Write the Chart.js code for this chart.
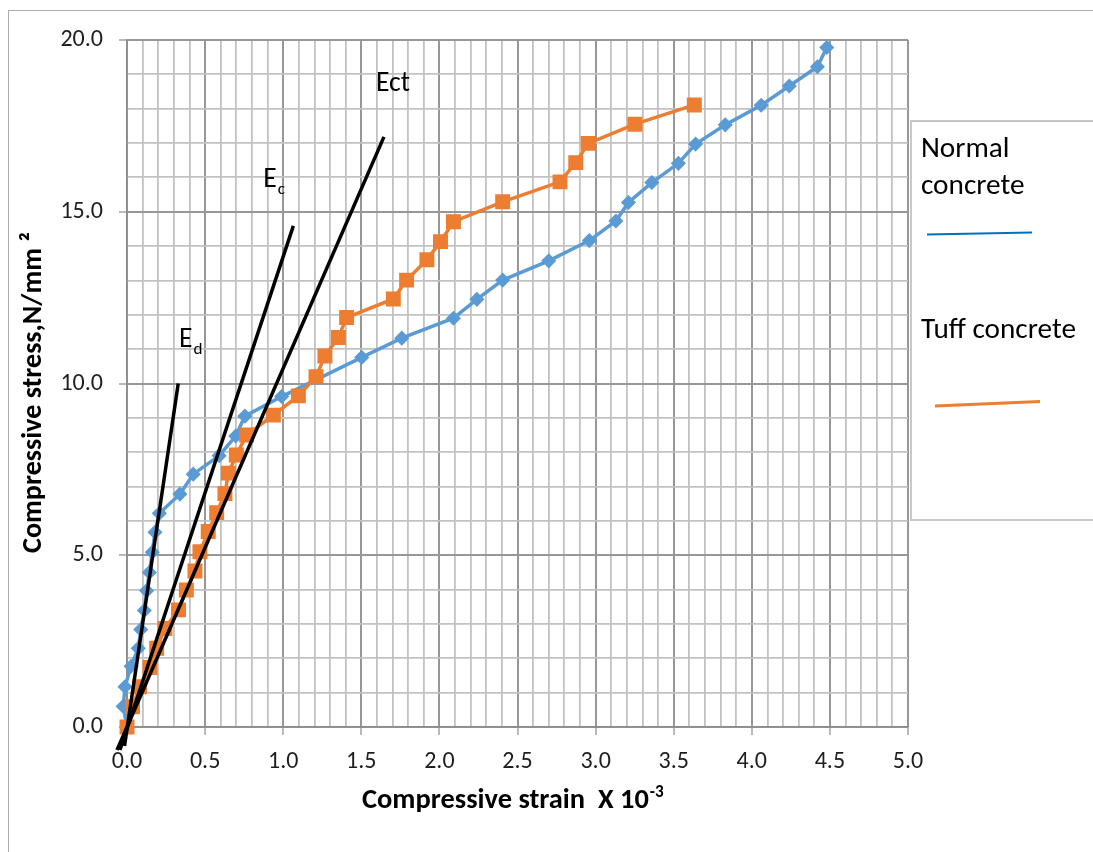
<!DOCTYPE html>
<html><head><meta charset="utf-8">
<script src="https://cdn.jsdelivr.net/npm/chart.js@4.4.1/dist/chart.umd.min.js"></script>
<style>html,body{margin:0;padding:0;background:#fff}canvas{display:block}</style>
</head><body>
<canvas id="c" width="1093" height="852"></canvas>
<script>
// ---- data ----
const normalStrain = [0, -0.024, -0.013, 0.026, 0.072, 0.088, 0.111, 0.126, 0.143, 0.162, 0.179, 0.207, 0.339, 0.424, 0.59, 0.696, 0.755, 0.99, 1.503, 1.759, 2.09, 2.24, 2.405, 2.70, 2.96, 3.13, 3.21, 3.36, 3.53, 3.64, 3.83, 4.06, 4.24, 4.42, 4.48];
const normalStress = [0, 0.60, 1.17, 1.77, 2.29, 2.84, 3.39, 3.97, 4.50, 5.09, 5.67, 6.22, 6.78, 7.36, 7.90, 8.47, 9.05, 9.62, 10.76, 11.32, 11.90, 12.45, 13.01, 13.57, 14.16, 14.73, 15.27, 15.85, 16.41, 16.97, 17.53, 18.10, 18.66, 19.22, 19.78];
const tuffStrain = [0, 0.035, 0.08, 0.147, 0.19, 0.243, 0.33, 0.38, 0.435, 0.467, 0.52, 0.574, 0.627, 0.649, 0.70, 0.766, 0.937, 1.097, 1.21, 1.267, 1.353, 1.406, 1.705, 1.79, 1.92, 2.007, 2.09, 2.405, 2.772, 2.873, 2.953, 3.252, 3.632];
const tuffStress = [0, 0.59, 1.17, 1.73, 2.29, 2.87, 3.41, 3.99, 4.54, 5.10, 5.69, 6.24, 6.80, 7.39, 7.92, 8.50, 9.08, 9.64, 10.20, 10.80, 11.34, 11.92, 12.46, 13.01, 13.60, 14.13, 14.71, 15.29, 15.87, 16.43, 16.99, 17.55, 18.11];
const edStrain = [-0.016, 0.328];
const edStress = [-0.55, 10.0];
const ecStrain = [-0.045, 1.065];
const ecStress = [-0.67, 14.59];
const ectStrain = [-0.064, 1.645];
const ectStress = [-0.67, 17.18];
const xTickLabels = ['0.0','0.5','1.0','1.5','2.0','2.5','3.0','3.5','4.0','4.5','5.0'];
const yTickLabels = ['0.0','5.0','10.0','15.0','20.0'];
const seriesNames = ['Normal concrete', 'Tuff concrete'];
const lineLabels = [
  {text: 'Ect', sub: '', x: 1.594, y: 18.52},
  {text: 'E', sub: 'c', x: 0.873, y: 15.71},
  {text: 'E', sub: 'd', x: 0.333, y: 11.07}
];

const FONT = 'Carlito, Lato, "Open Sans", sans-serif';
const BLUE = '#5B9BD5', ORANGE = '#ED7D31';

function pts(xs, ys) { return xs.map((x, i) => ({x: x, y: ys[i]})); }
function isMult(v, step) { const r = v / step; return Math.abs(r - Math.round(r)) < 1e-6; }
function fitSize(ctx, text, weight, target) {
  ctx.font = weight + ' 100px ' + FONT;
  return 100 * target / ctx.measureText(text).width;
}

const decor = {
  id: 'decor',
  beforeDraw(chart) {
    const ctx = chart.ctx;
    ctx.save();
    ctx.fillStyle = '#fff';
    ctx.fillRect(0, 0, chart.width, chart.height);
    ctx.restore();
  },
  afterDraw(chart) {
    const ctx = chart.ctx;
    const xs = chart.scales.x, ys = chart.scales.y;
    ctx.save();
    // outer frame
    ctx.strokeStyle = '#ABABAB';
    ctx.lineWidth = 1;
    ctx.strokeRect(8.5, 10.5, 2000, 2000);
    // legend box
    ctx.strokeStyle = '#C8C8C8';
    ctx.lineWidth = 2;
    ctx.strokeRect(911, 121, 400, 399);
    // legend text
    ctx.fillStyle = '#000';
    ctx.textAlign = 'left';
    ctx.textBaseline = 'alphabetic';
    const ls = fitSize(ctx, 'Tuff concrete', '400', 155);
    ctx.font = '400 ' + ls + 'px ' + FONT;
    const w1 = seriesNames[0].split(' ');
    ctx.fillText(w1[0], 921, 157);
    ctx.fillText(w1[1], 921, 194);
    ctx.fillText(seriesNames[1], 921, 338);
    // legend line samples
    ctx.lineCap = 'butt';
    ctx.strokeStyle = '#0070C0';
    ctx.lineWidth = 2;
    ctx.beginPath(); ctx.moveTo(927, 234.5); ctx.lineTo(1032, 232.5); ctx.stroke();
    ctx.strokeStyle = ORANGE;
    ctx.lineWidth = 3;
    ctx.beginPath(); ctx.moveTo(935, 406); ctx.lineTo(1040, 401.5); ctx.stroke();

    // y axis title
    const yt = 'Compressive stress,N/mm \u00B2';
    const ysz = fitSize(ctx, yt, '700', 321);
    ctx.save();
    ctx.translate(41, 392.5);
    ctx.rotate(-Math.PI / 2);
    ctx.font = '700 ' + ysz + 'px ' + FONT;
    ctx.textAlign = 'center';
    ctx.textBaseline = 'alphabetic';
    ctx.fillText(yt, 0, 0);
    ctx.restore();

    // x axis title with superscript
    const xt = 'Compressive strain  X 10';
    const xsz = fitSize(ctx, xt, '700', 287);
    ctx.font = '700 ' + xsz + 'px ' + FONT;
    ctx.textAlign = 'left';
    const xw = ctx.measureText(xt).width;
    ctx.fillText(xt, 362, 808);
    ctx.font = '700 ' + (xsz * 0.6) + 'px ' + FONT;
    ctx.fillText('-3', 362 + xw + 1, 797);

    // tangent line labels
    const asz = fitSize(ctx, 'Ect', '400', 34);
    lineLabels.forEach(l => {
      const px = xs.getPixelForValue(l.x), py = ys.getPixelForValue(l.y);
      ctx.font = '400 ' + asz + 'px ' + FONT;
      ctx.fillText(l.text, px, py);
      if (l.sub) {
        const tw = ctx.measureText(l.text).width;
        ctx.font = '400 ' + (asz * 0.62) + 'px ' + FONT;
        ctx.fillText(l.sub, px + tw + 1, py + 7);
      }
    });
    ctx.restore();
  }
};

const gridX = {
  color: c => (c.tick && isMult(c.tick.value, 0.5)) ? '#979797' : '#C2C2C2',
  lineWidth: c => (c.tick && isMult(c.tick.value, 0.5)) ? 2 : 1.8,
  tickColor: c => (c.tick && isMult(c.tick.value, 0.5)) ? '#8C8C8C' : 'rgba(0,0,0,0)',
  tickWidth: 1.2,
  tickLength: 8,
  drawTicks: true
};
const gridY = {
  color: c => (c.tick && isMult(c.tick.value, 5)) ? '#979797' : '#C2C2C2',
  lineWidth: c => (c.tick && isMult(c.tick.value, 5)) ? 2 : 1.8,
  tickColor: c => (c.tick && isMult(c.tick.value, 5)) ? '#8C8C8C' : 'rgba(0,0,0,0)',
  tickWidth: 1.2,
  tickLength: 8,
  drawTicks: true
};

new Chart(document.getElementById('c'), {
  type: 'scatter',
  data: {
    datasets: [
      {label: 'Ect', data: pts(ectStrain, ectStress), showLine: true, borderColor: '#000', borderWidth: 3.5, pointRadius: 0, clip: false, order: 1},
      {label: 'Ec', data: pts(ecStrain, ecStress), showLine: true, borderColor: '#000', borderWidth: 3.5, pointRadius: 0, clip: false, order: 1},
      {label: 'Ed', data: pts(edStrain, edStress), showLine: true, borderColor: '#000', borderWidth: 3.5, pointRadius: 0, clip: false, order: 1},
      {label: seriesNames[1], data: pts(tuffStrain, tuffStress), showLine: true, borderColor: ORANGE, backgroundColor: ORANGE, borderWidth: 3.5,
        pointStyle: 'rect', pointRadius: 9.5, pointBorderWidth: 1.5, pointBorderColor: ORANGE, pointBackgroundColor: ORANGE, clip: false, order: 2},
      {label: seriesNames[0], data: pts(normalStrain, normalStress), showLine: true, borderColor: BLUE, backgroundColor: BLUE, borderWidth: 3.5,
        pointStyle: 'rectRot', pointRadius: 6.5, pointBorderWidth: 1.5, pointBorderColor: BLUE, pointBackgroundColor: BLUE, clip: false, order: 3}
    ]
  },
  options: {
    responsive: false,
    animation: false,
    events: [],
    layout: {padding: {top: 40, right: 185, bottom: 0, left: 0}},
    plugins: {legend: {display: false}, tooltip: {enabled: false}, title: {display: false}},
    scales: {
      x: {
        type: 'linear', min: 0, max: 5,
        grid: gridX,
        border: {display: true, color: '#8C8C8C', width: 1.5},
        ticks: {
          stepSize: 0.1, autoSkip: false, maxRotation: 0, minRotation: 0, padding: 13,
          color: '#1E1E1E', font: {family: FONT, size: 24},
          callback: v => isMult(v, 0.5) ? xTickLabels[Math.round(v / 0.5)] : ''
        },
        afterFit: s => { s.height = 125; }
      },
      y: {
        type: 'linear', min: 0, max: 20,
        grid: gridY,
        border: {display: true, color: '#8C8C8C', width: 1.5},
        ticks: {
          stepSize: 1, autoSkip: false, padding: 16,
          color: '#1E1E1E', font: {family: FONT, size: 24},
          callback: v => isMult(v, 5) ? yTickLabels[Math.round(v / 5)] : ''
        },
        afterFit: s => { s.width = 127; }
      }
    }
  },
  plugins: [decor]
});
</script>
</body></html>
